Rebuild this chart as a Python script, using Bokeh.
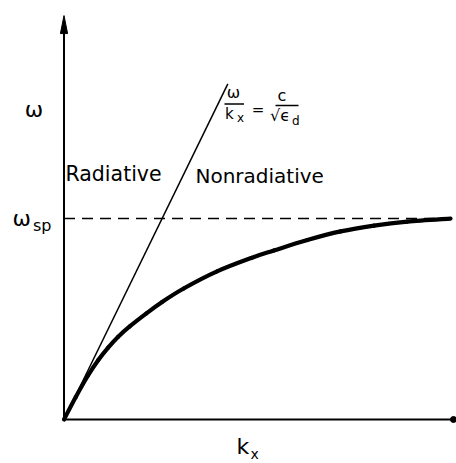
from bokeh.plotting import figure
from bokeh.models import Range1d, Label
from bokeh.embed import file_html
from bokeh.resources import INLINE

# Surface-plasmon dispersion: omega in units of omega_sp, k_x scaled so the light line is omega = k_x
k_spp = [0, 0.12, 0.245, 0.35, 0.45, 0.55, 0.67, 0.84, 1.0, 1.22, 1.56, 1.91, 2.14, 2.48, 2.82, 3.16, 3.5, 3.94]
w_spp = [0, 0.112, 0.219, 0.296, 0.358, 0.411, 0.463, 0.528, 0.585, 0.652, 0.737, 0.804, 0.841, 0.893, 0.936, 0.965, 0.985, 1.0]

# light line omega / k_x = c / sqrt(eps_d)
k_light = [0, 1.67]
w_light = [0, 1.67]

w_sp = 1.0       # surface-plasmon asymptote
k_sp_end = 3.94  # where the dashed asymptote stops
k_axis_end = 3.97
w_axis_top = 2.01

PX_PER_K = 98.1
PX_PER_W = 200.95
X0_PX, Y0_PX = 63.5, 419.0


def X(px):
    return (px - X0_PX) / PX_PER_K


def Y(py):
    return (Y0_PX - py) / PX_PER_W


W, H = 456, 463
p = figure(width=W, height=H, output_backend="svg", toolbar_location=None,
           x_range=Range1d(X(0), X(W)), y_range=Range1d(Y(H), Y(0)),
           x_axis_type=None, y_axis_type=None, min_border=0)
p.outline_line_color = None
p.background_fill_color = "white"
p.border_fill_color = "white"

FONT = "DejaVu Sans"

# axes
p.line([0, k_axis_end], [0, 0], line_color="black", line_width=2)
p.line([0, 0], [0, w_axis_top - 0.06], line_color="black", line_width=2)
head_len = 18 / PX_PER_W
head_half = 3.6 / PX_PER_K
p.patch([-head_half, 0, head_half], [w_axis_top - head_len, w_axis_top, w_axis_top - head_len],
        fill_color="black", line_color="black", line_width=1)
p.scatter([k_axis_end], [0], size=6, color="black")

# asymptote and light line
p.line([0, k_sp_end], [w_sp, w_sp], line_color="black", line_width=1.6, line_dash="11 7")
p.line(k_light, w_light, line_color="black", line_width=1.5)

# dispersion curve, drawn as a Catmull-Rom spline through the points
n = len(k_spp)
pts = list(zip(k_spp, w_spp))
x0, y0, x1, y1, cx0, cy0, cx1, cy1 = ([] for _ in range(8))
for i in range(n - 1):
    pa = pts[max(i - 1, 0)]
    pb, pc = pts[i], pts[i + 1]
    pd = pts[min(i + 2, n - 1)]
    x0.append(pb[0]); y0.append(pb[1])
    x1.append(pc[0]); y1.append(pc[1])
    cx0.append(pb[0] + (pc[0] - pa[0]) / 6); cy0.append(pb[1] + (pc[1] - pa[1]) / 6)
    cx1.append(pc[0] - (pd[0] - pb[0]) / 6); cy1.append(pc[1] - (pd[1] - pb[1]) / 6)
p.bezier(x0=x0, y0=y0, x1=x1, y1=y1, cx0=cx0, cy0=cy0, cx1=cx1, cy1=cy1,
         line_color="black", line_width=4.2, line_cap="round")


def label(px, py, text, size, align="left"):
    # py is the pixel row of the text's baseline
    p.add_layout(Label(x=X(px), y=Y(py - 0.38 * size), text=text, text_font=FONT,
                       text_font_size=f"{size}px", text_color="black",
                       text_align=align, text_baseline="alphabetic"))


# axis labels
label(33.5, 117, "ω", 22, "center")
label(12, 226, "ω", 22)
label(32.5, 231, "sp", 16)
label(236, 454.5, "k", 22)
label(250, 458.5, "x", 14)

# region labels
label(65, 181, "Radiative", 20.5)
label(195, 183, "Nonradiative", 20)

# light-line equation
label(233, 98.5, "ω", 16, "center")
label(224.5, 119.5, "k", 15)
label(236.5, 122, "x", 12)
label(257.5, 115, "=", 15, "center")
label(281.5, 101, "c", 16, "center")
label(269.5, 121.5, "√ϵ", 16)
label(291.5, 125.5, "d", 12)
p.segment(x0=[X(224), X(275)], y0=[Y(103.5), Y(105)],
          x1=[X(243.5), X(298)], y1=[Y(103.5), Y(105)],
          line_color="black", line_width=1.6)

open("out.html", "w").write(file_html(p, INLINE))
